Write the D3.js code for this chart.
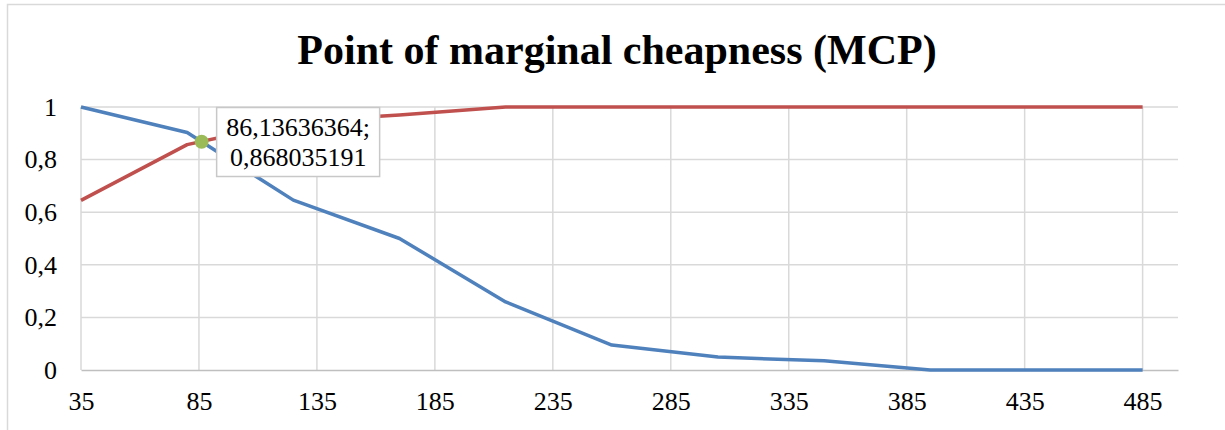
<!DOCTYPE html>
<html lang="en">
<head>
    <meta charset="UTF-8">
    <script src="https://cdn.jsdelivr.net/npm/d3@7"></script>
    <title>Point of marginal cheapness (MCP)</title>
    <style>
        body {
            margin: 0;
            background: white;
        }
    </style>
</head>
<body>
    <div class="chart"></div>

    <script>
        // Data
        const prices = [35, 80, 125, 170, 215, 260, 305, 350, 395, 440, 485];
        const notCheap = [1, 0.903, 0.646, 0.50, 0.259, 0.095, 0.049, 0.035, 0, 0, 0];
        const notExpensive = [0.645, 0.857, 0.945, 0.97, 1, 1, 1, 1, 1, 1, 1];
        const mcpPoint = { x: 86.13636364, y: 0.868035191 };
        const mcpLabel = ["86,13636364;", "0,868035191"];
        const xTicks = [35, 85, 135, 185, 235, 285, 335, 385, 435, 485];
        const yTicks = [0, 0.2, 0.4, 0.6, 0.8, 1];

        const width = 1225;
        const height = 430;
        const margin = { top: 107, right: 47, bottom: 60, left: 81 };
        const serif = "'Liberation Serif', 'Times New Roman', serif";

        const svg = d3.select(".chart").append("svg")
            .attr("width", width)
            .attr("height", height)
            .attr("font-family", serif);

        // chart area border
        svg.append("rect")
            .attr("x", 7.5)
            .attr("y", 4.5)
            .attr("width", 1230)
            .attr("height", 460)
            .attr("fill", "white")
            .attr("stroke", "#d9d9d9")
            .attr("stroke-width", 1.5);

        const x = d3.scaleLinear()
            .domain([35, 500])
            .range([margin.left, width - margin.right]);

        const y = d3.scaleLinear()
            .domain([0, 1])
            .range([height - margin.bottom, margin.top]);

        /*--- Gridlines ---*/
        svg.append("g")
            .selectAll("line")
            .data(yTicks.filter(d => d > 0))
            .enter()
            .append("line")
            .attr("x1", x(35))
            .attr("x2", x(500))
            .attr("y1", d => y(d))
            .attr("y2", d => y(d))
            .attr("stroke", "#d9d9d9")
            .attr("stroke-width", 1.5);

        svg.append("g")
            .selectAll("line")
            .data(xTicks)
            .enter()
            .append("line")
            .attr("x1", d => x(d))
            .attr("x2", d => x(d))
            .attr("y1", y(1))
            .attr("y2", y(0))
            .attr("stroke", "#d9d9d9")
            .attr("stroke-width", 1.5);

        /*--- Axes ---*/
        const xAxis = svg.append("g")
            .attr("transform", `translate(0,${y(0)})`)
            .call(d3.axisBottom(x).tickValues(xTicks).tickSize(0).tickPadding(22)
                .tickFormat(d3.format("d")));
        xAxis.attr("font-family", serif).attr("font-size", 26);
        xAxis.select(".domain").attr("stroke", "#bfbfbf").attr("stroke-width", 1.5);
        xAxis.selectAll("text")
            .attr("fill", "black")
            .attr("dy", "0.71em");

        const yAxis = svg.append("g")
            .attr("transform", `translate(${margin.left},0)`)
            .call(d3.axisLeft(y).tickValues(yTicks).tickSize(0).tickPadding(24)
                .tickFormat(d => String(d).replace(".", ",")));
        yAxis.attr("font-family", serif).attr("font-size", 26);
        yAxis.select(".domain").remove();
        yAxis.selectAll("text").attr("fill", "black");

        /*--- Lines ---*/
        const line = d3.line()
            .x((d, i) => x(prices[i]))
            .y(d => y(d));

        svg.append("path")
            .datum(notCheap)
            .attr("d", line)
            .attr("fill", "none")
            .attr("stroke", "#4f81bd")
            .attr("stroke-width", 3.5)
            .attr("stroke-linejoin", "round");

        svg.append("path")
            .datum(notExpensive)
            .attr("d", line)
            .attr("fill", "none")
            .attr("stroke", "#c0504d")
            .attr("stroke-width", 3.5)
            .attr("stroke-linejoin", "round");

        svg.append("circle")
            .attr("cx", x(mcpPoint.x))
            .attr("cy", y(mcpPoint.y))
            .attr("r", 7)
            .attr("fill", "#9bbb59");

        /*--- Data label ---*/
        const label = svg.append("g")
            .attr("transform", `translate(${x(mcpPoint.x) + 15},${y(1) + 0.5})`);

        label.append("rect")
            .attr("width", 163)
            .attr("height", 69)
            .attr("fill", "white")
            .attr("stroke", "#c8c8c8")
            .attr("stroke-width", 1.5);

        label.selectAll("text")
            .data(mcpLabel)
            .enter()
            .append("text")
            .attr("x", 81.5)
            .attr("y", (d, i) => 28 + i * 30)
            .attr("text-anchor", "middle")
            .attr("font-size", 26)
            .text(d => d);

        /*--- Title ---*/
        svg.append("text")
            .attr("x", 617)
            .attr("y", 64)
            .attr("text-anchor", "middle")
            .attr("font-size", 42)
            .attr("font-weight", "bold")
            .text("Point of marginal cheapness (MCP)");
    </script>
</body>
</html>
